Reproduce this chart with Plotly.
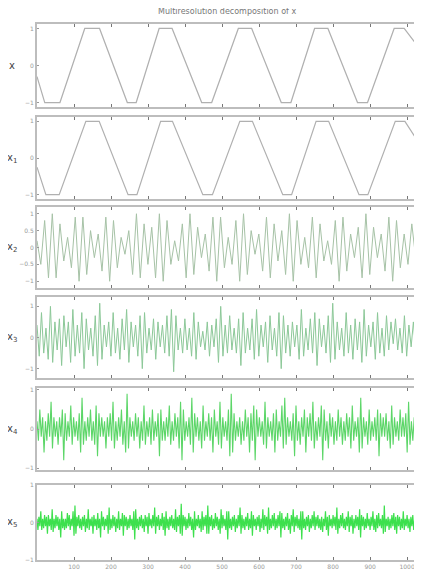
import numpy as np
import plotly.graph_objects as go

# ---------------- data ----------------
title_text = "Multiresolution decomposition of x"
panel_labels = ["x", "x<sub>1</sub>", "x<sub>2</sub>", "x<sub>3</sub>", "x<sub>4</sub>", "x<sub>5</sub>"]
x_tick_vals = [100, 200, 300, 400, 500, 600, 700, 800, 900, 1000]
n_samples = 1024

# panel 1 / 2: slow wave (vertices)
s1_x = [0, 21, 62, 129, 169, 244, 268, 330, 365, 445, 472, 544, 580, 660, 686, 750, 786, 866, 893, 965, 992, 1023]
s1_y = [-0.3, -1, -1, 1, 1, -1, -1, 1, 1, -1, -1, 1, 1, -1, -1, 1, 1, -1, -1, 1, 1, 0.6]
s2_x = [0, 24, 60, 132, 168, 246, 270, 334, 366, 448, 474, 548, 582, 664, 688, 754, 788, 870, 894, 968, 994, 1023]
s2_y = [-0.25, -1, -1, 1, 1, -1, -1, 1, 1, -1, -1, 1, 1, -1, -1, 1, 1, -1, -1, 1, 1, 0.55]

s3 = [0.2,-0.5,0.8,-0.9,1.0,-0.9,0.7,-0.4,0.3,-0.6,
      0.9,-1.0,0.9,-0.8,0.5,-0.3,0.4,-0.7,0.9,-1.0,
      0.8,-0.6,0.3,-0.2,0.5,-0.8,1.0,-0.9,0.7,-0.5,
      0.6,-0.9,1.0,-1.0,0.8,-0.5,0.2,-0.4,0.7,-0.9,
      1.0,-0.8,0.6,-0.3,0.4,-0.7,0.9,-1.0,0.9,-0.6,
      0.3,-0.5,0.8,-1.0,1.0,-0.8,0.5,-0.2,0.4,-0.7,
      0.9,-0.9,0.7,-0.4,0.5,-0.8,1.0,-1.0,0.8,-0.5,
      0.3,-0.6,0.9,-0.9,0.7,-0.4,0.2,-0.5,0.8,-1.0,
      0.9,-0.7,0.4,-0.3,0.6,-0.9,1.0,-0.8,0.6,-0.3,
      0.4,-0.7,0.9,-1.0,0.8,-0.6,0.4,-0.5,0.7,-0.3]

s4 = [0.4,-0.6,0.8,-0.5,0.3,-0.7,1.0,-0.8,0.5,-0.4,
      0.6,-0.9,0.7,-0.3,0.5,-0.8,0.9,-0.6,0.4,-0.5,
      0.8,-1.0,0.6,-0.4,0.3,-0.6,0.7,-0.9,1.1,-0.7,
      0.4,-0.3,0.5,-0.6,0.8,-0.5,0.3,-0.7,0.6,-0.4,
      0.9,-0.8,0.5,-0.3,0.4,-0.6,0.7,-1.0,0.8,-0.5,
      0.3,-0.4,0.6,-0.7,0.5,-0.3,0.4,-0.5,0.7,-0.6,
      0.9,-1.1,0.7,-0.4,0.3,-0.5,0.6,-0.4,0.3,-0.6,
      0.8,-0.7,0.5,-0.3,0.2,-0.4,0.5,-0.6,0.4,-0.3,
      0.6,-0.8,1.0,-0.6,0.4,-0.5,0.7,-0.4,0.3,-0.5,
      0.6,-0.9,0.8,-0.5,0.3,-0.4,0.6,-0.7,0.9,-0.6,
      0.4,-0.3,0.5,-0.8,0.7,-0.4,0.3,-0.6,0.8,-1.0,
      0.7,-0.5,0.4,-0.6,0.5,-0.3,0.4,-0.7,0.9,-0.6,
      0.3,-0.4,0.6,-0.5,0.8,-0.9,0.6,-0.3,0.4,-0.5,
      0.7,-0.8,1.1,-0.7,0.5,-0.4,0.3,-0.6,0.8,-0.5,
      0.4,-0.7,0.6,-0.4,0.5,-0.8,0.9,-0.6,0.4,-0.3,
      0.5,-0.7,0.8,-0.5,0.3,-0.6,0.7,-0.4,0.5,-0.2,
      0.6,-0.4,0.3,-0.5,0.7,-0.6,0.4,-0.3,0.5,-0.4]

s5 = [0.2,-0.3,0.5,-0.2,0.3,-0.6,0.2,-0.3,0.4,-0.2,
      0.7,-0.5,0.3,-0.2,0.2,-0.4,0.3,-0.2,0.5,-0.8,
      0.4,-0.3,0.2,-0.2,0.6,-0.4,0.3,-0.2,0.2,-0.3,
      0.4,-0.6,0.8,-0.4,0.2,-0.3,0.3,-0.2,0.5,-0.3,
      0.2,-0.4,0.6,-0.7,0.4,-0.2,0.3,-0.2,0.2,-0.5,
      0.3,-0.2,0.4,-0.3,0.7,-0.5,0.2,-0.3,0.3,-0.2,
      0.5,-0.4,0.2,-0.6,0.9,-0.5,0.3,-0.2,0.2,-0.3,
      0.4,-0.2,0.3,-0.5,0.2,-0.3,0.6,-0.4,0.2,-0.2,
      0.3,-0.4,0.5,-0.3,0.2,-0.2,0.4,-0.7,0.5,-0.3,
      0.2,-0.3,0.3,-0.2,0.6,-0.4,0.2,-0.3,0.4,-0.2,
      0.3,-0.5,0.7,-0.8,0.5,-0.3,0.2,-0.2,0.3,-0.4,
      0.8,-0.6,0.4,-0.2,0.3,-0.3,0.2,-0.5,0.6,-0.3,
      0.2,-0.2,0.4,-0.3,0.3,-0.6,0.5,-0.2,0.2,-0.4,
      0.7,-0.5,0.3,-0.2,0.2,-0.3,0.5,-0.7,0.9,-0.6,
      0.4,-0.3,0.2,-0.2,0.3,-0.4,0.2,-0.3,0.5,-0.2,
      0.3,-0.6,0.4,-0.3,0.6,-0.8,0.5,-0.2,0.3,-0.2,
      0.2,-0.4,0.7,-0.5,0.3,-0.2,0.2,-0.3,0.4,-0.6,
      0.5,-0.3,0.2,-0.2,0.6,-0.5,0.8,-0.4,0.3,-0.2,
      0.2,-0.3,0.4,-0.7,0.6,-0.3,0.2,-0.4,0.3,-0.2,
      0.5,-0.6,0.3,-0.2,0.4,-0.3,0.7,-0.5,0.2,-0.3,
      0.3,-0.2,0.6,-0.8,0.5,-0.3,0.2,-0.5,0.4,-0.2,
      0.3,-0.4,0.2,-0.3,0.5,-0.2,0.3,-0.4,0.2,-0.3,
      0.4,-0.2,0.3,-0.5,0.6,-0.3,0.2,-0.2,0.3,-0.6,
      0.8,-0.5,0.3,-0.2,0.2,-0.4,0.5,-0.3,0.2,-0.2,
      0.3,-0.3,0.5,-0.7,0.4,-0.2,0.3,-0.2,0.4,-0.3,
      0.2,-0.5,0.6,-0.4,0.3,-0.2,0.2,-0.3,0.5,-0.2,
      0.3,-0.2,0.4,-0.6,0.7,-0.4,0.2,-0.3,0.3,-0.1]

s6 = [0.1,-0.2,0.15,-0.1,0.3,-0.2,0.1,-0.15,0.2,-0.1,
      0.15,-0.3,0.2,-0.1,0.1,-0.2,0.35,-0.25,0.1,-0.15,
      0.2,-0.1,0.15,-0.2,0.1,-0.4,0.3,-0.15,0.1,-0.2,
      0.1,-0.15,0.25,-0.1,0.2,-0.2,0.1,-0.1,0.3,-0.35,
      0.45,-0.3,0.15,-0.1,0.2,-0.15,0.1,-0.2,0.15,-0.1,
      0.2,-0.25,0.1,-0.15,0.35,-0.2,0.1,-0.1,0.15,-0.3,
      0.2,-0.1,0.1,-0.2,0.25,-0.15,0.1,-0.4,0.3,-0.1,
      0.15,-0.2,0.1,-0.1,0.2,-0.3,0.4,-0.2,0.1,-0.15,
      0.2,-0.1,0.15,-0.25,0.1,-0.15,0.3,-0.2,0.1,-0.1,
      0.25,-0.35,0.2,-0.1,0.15,-0.2,0.1,-0.15,0.2,-0.1,
      0.1,-0.2,0.3,-0.45,0.35,-0.15,0.1,-0.2,0.15,-0.1,
      0.2,-0.15,0.1,-0.25,0.2,-0.1,0.15,-0.3,0.25,-0.1,
      0.1,-0.15,0.2,-0.1,0.4,-0.3,0.15,-0.1,0.2,-0.2,
      0.1,-0.1,0.25,-0.2,0.15,-0.35,0.3,-0.15,0.1,-0.2,
      0.15,-0.1,0.2,-0.15,0.1,-0.2,0.35,-0.25,0.15,-0.1,
      0.2,-0.3,0.5,-0.35,0.2,-0.1,0.15,-0.2,0.1,-0.15,
      0.25,-0.1,0.15,-0.2,0.1,-0.4,0.3,-0.2,0.1,-0.1,
      0.2,-0.15,0.1,-0.25,0.3,-0.2,0.15,-0.1,0.2,-0.3,
      0.45,-0.3,0.15,-0.1,0.2,-0.2,0.1,-0.15,0.25,-0.1,
      0.15,-0.2,0.1,-0.3,0.35,-0.15,0.2,-0.1,0.1,-0.2,
      0.3,-0.45,0.3,-0.15,0.1,-0.2,0.15,-0.1,0.2,-0.25,
      0.1,-0.15,0.2,-0.1,0.4,-0.3,0.2,-0.15,0.1,-0.2,
      0.15,-0.1,0.25,-0.2,0.1,-0.15,0.3,-0.35,0.2,-0.1,
      0.1,-0.2,0.15,-0.1,0.2,-0.25,0.1,-0.15,0.35,-0.2,
      0.2,-0.1,0.15,-0.3,0.4,-0.2,0.1,-0.15,0.2,-0.1,
      0.25,-0.2,0.1,-0.15,0.2,-0.1,0.3,-0.4,0.25,-0.15,
      0.1,-0.2,0.15,-0.1,0.25,-0.2,0.1,-0.3,0.2,-0.1,
      0.35,-0.25,0.15,-0.1,0.2,-0.15,0.1,-0.2,0.3,-0.45,
      0.3,-0.15,0.1,-0.2,0.15,-0.1,0.2,-0.25,0.1,-0.15,
      0.2,-0.1,0.3,-0.2,0.15,-0.1,0.2,-0.15,0.1,-0.2,
      0.15,-0.25,0.1,-0.1,0.3,-0.2,0.15,-0.35,0.2,-0.1,
      0.1,-0.15,0.2,-0.1,0.15,-0.2,0.4,-0.3,0.1,-0.15,
      0.2,-0.1,0.25,-0.15,0.1,-0.2,0.15,-0.1,0.3,-0.25,
      0.15,-0.1,0.2,-0.3,0.1,-0.15,0.2,-0.1,0.15,-0.2,
      0.35,-0.4,0.2,-0.1,0.15,-0.2,0.1,-0.15,0.25,-0.1,
      0.1,-0.2,0.15,-0.1,0.3,-0.2,0.1,-0.25,0.2,-0.15,
      0.25,-0.1,0.1,-0.15,0.2,-0.3,0.45,-0.25,0.1,-0.1,
      0.15,-0.2,0.1,-0.15,0.2,-0.1,0.25,-0.2,0.15,-0.3,
      0.2,-0.1,0.15,-0.2,0.1,-0.15,0.3,-0.2,0.1,-0.1,
      0.2,-0.15,0.1,-0.25,0.15,-0.1,0.2,-0.2,0.1,-0.05]

y_ticks = [[-1, 0, 1], [-1, 0, 1], [-1, -0.5, 0, 0.5, 1], [-1, 0, 1], [-1, 0, 1], [-1, 0, 1]]
y_ranges = [[-1.12, 1.12], [-1.12, 1.12], [-1.2, 1.2], [-1.3, 1.3], [-1.05, 1.05], [-1.0, 1.0]]
colors = ["#b0b0b0", "#b0b0b0", "#a6c2a6", "#8cc898", "#5cd668", "#3de04d"]
widths = [1.2, 1.2, 1.0, 1.0, 1.1, 1.2]

# ---------------- figure ----------------
# The page body keeps an 8 px default margin, so the figure is sized to fit after it.
OFF = 8
W, H = 422 - OFF, 582 - OFF
pix = [(24, 107), (117, 199), (207, 288), (297, 378), (388, 470), (485, 560)]  # page px
left_px, right_px = 37, 418
ml, mr = left_px - OFF, W - (right_px - OFF)
mt, mb = pix[0][0] - OFF, H - (pix[-1][1] - OFF)
ph = H - mt - mb
domains = [[1 - (b - OFF - mt) / ph, 1 - (t - OFF - mt) / ph] for t, b in pix]

series = [
    (s1_x, s1_y),
    (s2_x, s2_y),
    (np.linspace(0, n_samples - 1, len(s3)), s3),
    (np.linspace(0, n_samples - 1, len(s4)), s4),
    (np.linspace(0, n_samples - 1, len(s5)), s5),
    (np.linspace(0, n_samples - 1, len(s6)), s6),
]

fig = go.Figure()
layout = dict(
    width=W, height=H,
    margin=dict(l=ml, r=mr, t=mt, b=mb),
    paper_bgcolor="white", plot_bgcolor="white",
    showlegend=False,
    font=dict(family="DejaVu Sans", size=7, color="#888888"),
)
annotations = []
for i, ((xs, ys), col) in enumerate(zip(series, colors)):
    k = "" if i == 0 else str(i + 1)
    fig.add_trace(go.Scatter(x=xs, y=ys, mode="lines", line=dict(color=col, width=widths[i]),
                             xaxis="x" + k, yaxis="y" + k, hoverinfo="skip"))
    layout["xaxis" + k] = dict(
        domain=[0, 1], anchor="y" + k, range=[0, n_samples],
        tickvals=x_tick_vals, showticklabels=(i == 5),
        ticks="inside", ticklen=3, tickcolor="#777777", tickwidth=1,
        showline=True, linecolor="#bdbdbd", linewidth=2, mirror="ticks",
        showgrid=False, zeroline=False, tickfont=dict(size=6, color="#999999"),
    )
    layout["yaxis" + k] = dict(
        domain=domains[i], anchor="x" + k, range=y_ranges[i],
        tickvals=y_ticks[i], ticks="inside", ticklen=2, tickcolor="#999999",
        showline=True, linecolor="#bdbdbd", linewidth=2, mirror=True,
        showgrid=False, zeroline=False, tickfont=dict(size=6, color="#999999"),
    )
    annotations.append(dict(
        text=panel_labels[i], xref="paper", yref="paper",
        x=(12 - left_px) / (right_px - left_px), y=(domains[i][0] + domains[i][1]) / 2,
        xanchor="center", yanchor="middle", showarrow=False,
        font=dict(size=10, color="#444444"),
    ))
annotations.append(dict(
    text=title_text, xref="paper", yref="paper", x=0.5, y=1.0, yshift=13,
    xanchor="center", yanchor="middle", showarrow=False,
    font=dict(size=8, color="#777777"),
))
layout["annotations"] = annotations
fig.update_layout(**layout)
fig.write_html("out.html")
